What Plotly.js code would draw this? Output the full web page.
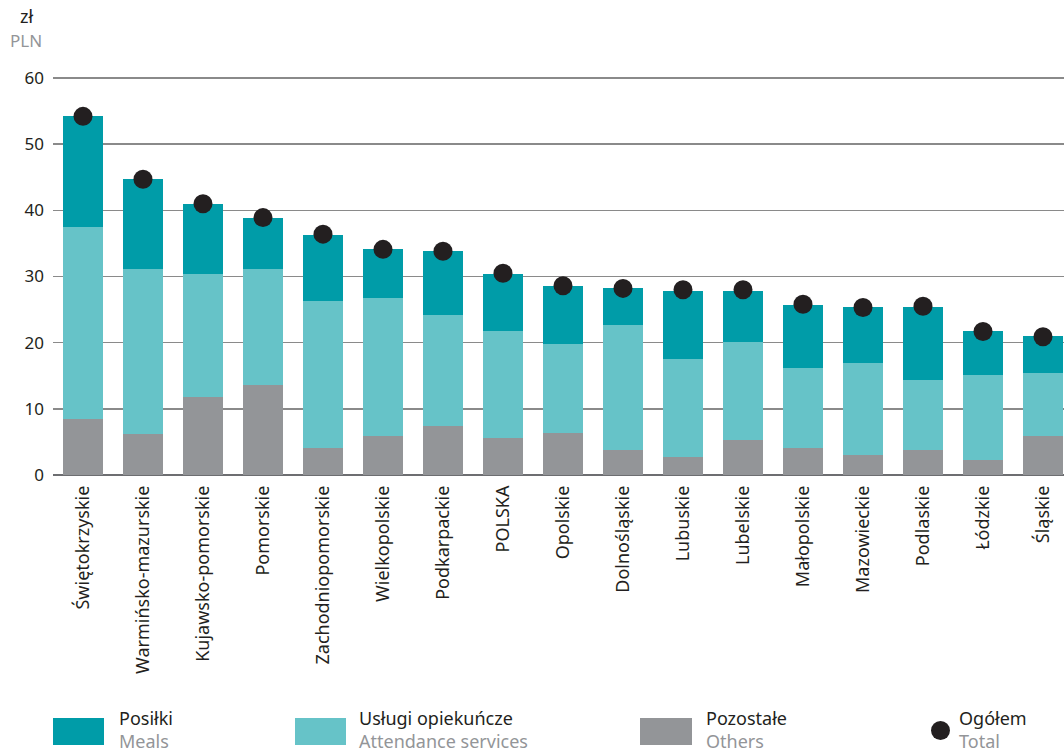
<!DOCTYPE html>
<html><head><meta charset="utf-8">
<script src="https://cdn.plot.ly/plotly-3.0.1.min.js"></script>
<style>html,body{margin:0;padding:0;background:#fff;overflow:hidden}</style>
</head><body><div id="chart" style="width:1064px;height:754px"></div>
<script>
const regions = ["Świętokrzyskie","Warmińsko-mazurskie","Kujawsko-pomorskie","Pomorskie","Zachodniopomorskie","Wielkopolskie","Podkarpackie","POLSKA","Opolskie","Dolnośląskie","Lubuskie","Lubelskie","Małopolskie","Mazowieckie","Podlaskie","Łódzkie","Śląskie"];
const others     = [8.5, 6.2, 11.8, 13.6, 4.1, 5.9, 7.4, 5.6, 6.4, 3.8, 2.7, 5.3, 4.1, 3.0, 3.8, 2.3, 5.9];
const attendance = [29.0, 25.0, 18.6, 17.6, 22.2, 20.9, 16.8, 16.1, 13.4, 18.9, 14.9, 14.8, 12.1, 14.0, 10.6, 12.8, 9.5];
const meals      = [16.8, 13.6, 10.6, 7.7, 10.0, 7.4, 9.6, 8.7, 8.8, 5.6, 10.2, 7.7, 9.5, 8.4, 11.0, 6.6, 5.6];
const total      = [54.2, 44.7, 41.0, 38.9, 36.4, 34.1, 33.8, 30.5, 28.6, 28.2, 28.0, 28.0, 25.8, 25.3, 25.5, 21.7, 20.9];

const C_MEALS = "#009ca8", C_ATT = "#66c3c8", C_OTH = "#939598", C_DOT = "#231f20";
const FONT = "Noto Sans";

const traces = [
  {type:"bar", x:regions, y:others, name:"Pozostałe", marker:{color:C_OTH}, hoverinfo:"y"},
  {type:"bar", x:regions, y:attendance, name:"Usługi opiekuńcze", marker:{color:C_ATT}, hoverinfo:"y"},
  {type:"bar", x:regions, y:meals, name:"Posiłki", marker:{color:C_MEALS}, hoverinfo:"y"},
  {type:"scatter", mode:"markers", x:regions, y:total, name:"Ogółem", marker:{color:C_DOT, size:19}, cliponaxis:false}
];

const W = 1064, H = 754, ML = 53, MR = 0, MT = 75, MB = 279;
const PW = W - ML - MR, PH = H - MT - MB;
const px = v => (v - ML) / PW, py = v => (H - MB - v) / PH;

const legendItems = [
  {x0:53, x1:104, kind:"rect", color:C_MEALS, tx:117, a:"Posiłki", b:"Meals"},
  {x0:295, x1:346, kind:"rect", color:C_ATT, tx:357, a:"Usługi opiekuńcze", b:"Attendance services"},
  {x0:640, x1:692, kind:"rect", color:C_OTH, tx:704, a:"Pozostałe", b:"Others"},
  {x0:931, x1:950, kind:"circle", color:C_DOT, tx:957, a:"Ogółem", b:"Total"}
];
const shapes = [], annotations = [];
legendItems.forEach(it => {
  if (it.kind === "rect") {
    shapes.push({type:"rect", xref:"paper", yref:"paper", x0:px(it.x0), x1:px(it.x1), y0:py(745), y1:py(718), fillcolor:it.color, line:{width:0}});
  } else {
    shapes.push({type:"circle", xref:"paper", yref:"paper", x0:px(it.x0), x1:px(it.x1), y0:py(740), y1:py(721), fillcolor:it.color, line:{width:0}});
  }
  annotations.push({xref:"paper", yref:"paper", x:px(it.tx), y:py(718), xanchor:"left", yanchor:"middle", text:it.a, showarrow:false, font:{family:FONT, size:18, color:"#231f20"}});
  annotations.push({xref:"paper", yref:"paper", x:px(it.tx), y:py(741), xanchor:"left", yanchor:"middle", text:it.b, showarrow:false, font:{family:FONT, size:18, color:"#939598"}});
});
annotations.push({xref:"paper", yref:"paper", x:px(26), y:py(16), xanchor:"center", yanchor:"middle", text:"zł", showarrow:false, font:{family:FONT, size:18, color:"#231f20"}});
annotations.push({xref:"paper", yref:"paper", x:px(26), y:py(40), xanchor:"center", yanchor:"middle", text:"PLN", showarrow:false, font:{family:FONT, size:17, color:"#939598"}});

const layout = {
  width: W, height: H,
  margin: {l:ML, r:MR, t:MT, b:MB},
  paper_bgcolor:"#fff", plot_bgcolor:"#fff",
  barmode:"stack", bargap:0.32,
  showlegend:false,
  font:{family:FONT, color:"#231f20"},
  xaxis:{type:"category", range:[-0.5, 16.35], tickangle:-90, ticks:"", showgrid:false, zeroline:false, showline:false, tickfont:{family:FONT, size:18, color:"#231f20"}, ticklabelstandoff:6},
  yaxis:{range:[0,60.45], tickvals:[0,10,20,30,40,50,60], ticks:"", showgrid:true, gridcolor:"#8a8a8a", gridwidth:1.5, zeroline:true, zerolinecolor:"#6d6e71", zerolinewidth:2, showline:false, tickfont:{family:FONT, size:17, color:"#231f20"}, ticklabelstandoff:8},
  shapes, annotations
};
Plotly.newPlot("chart", traces, layout, {displayModeBar:false, staticPlot:true});
</script></body></html>
